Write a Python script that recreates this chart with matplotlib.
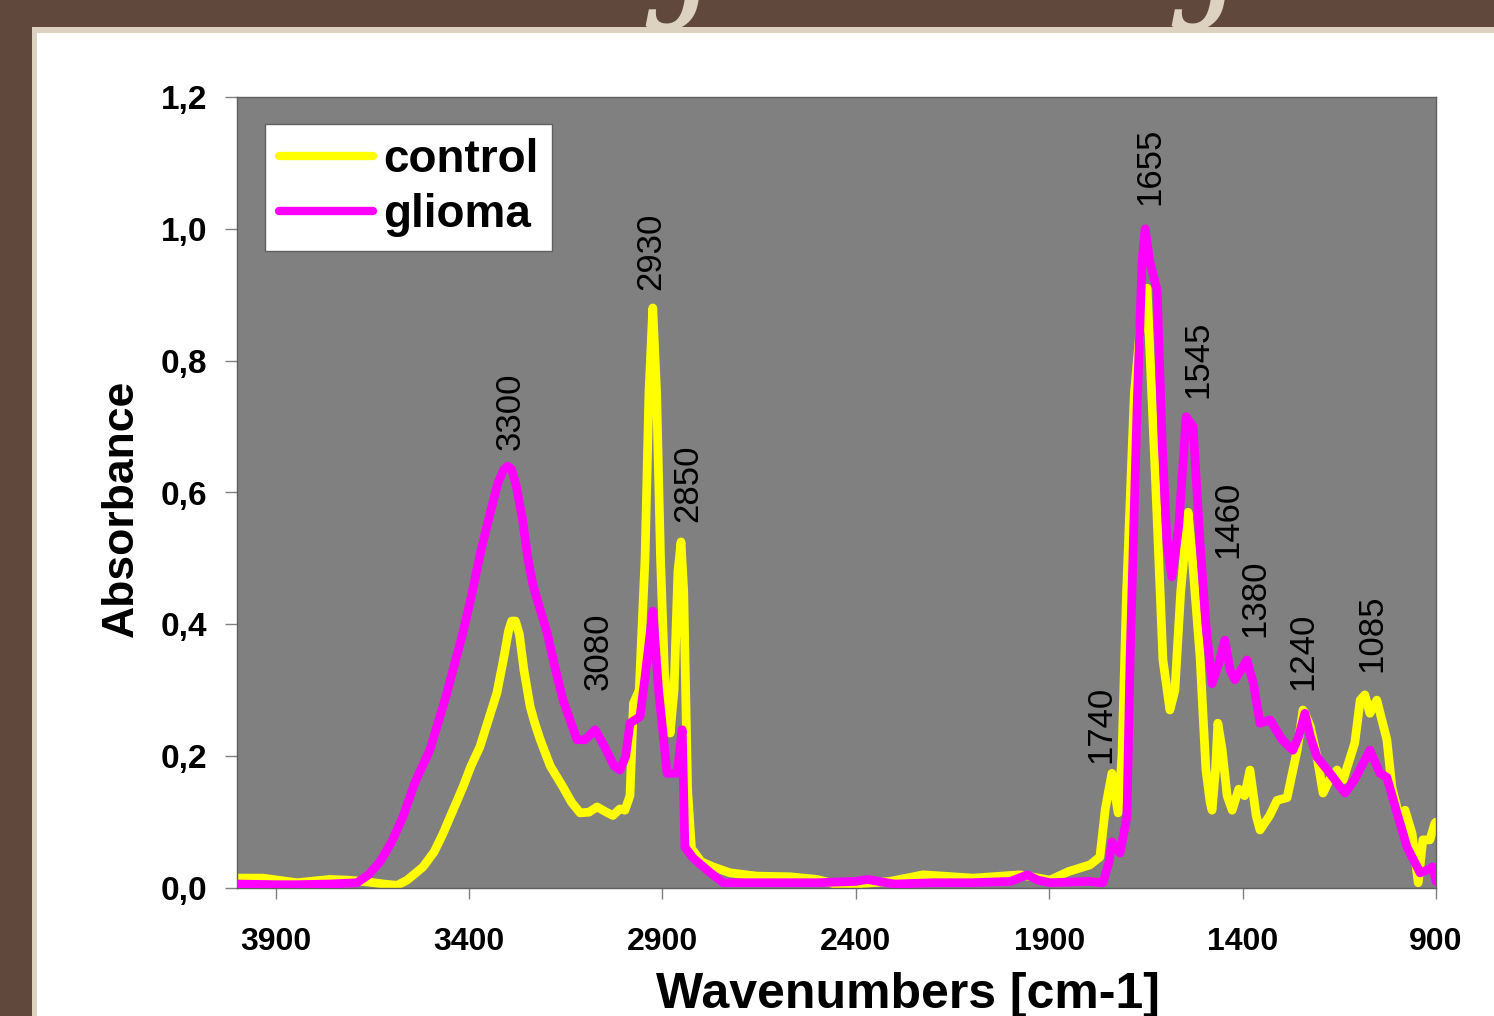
import matplotlib
matplotlib.use("Agg")
import matplotlib.pyplot as plt
from matplotlib.patches import Rectangle

# ---------------- data ----------------
control_x = [4000, 3933, 3845, 3760, 3716, 3674, 3620, 3586, 3560, 3519, 3490, 3467, 3440, 3416, 3395,
             3372, 3350, 3328, 3310, 3298, 3290, 3280, 3270, 3258, 3242, 3230, 3216, 3190, 3157, 3135,
             3113, 3090, 3069, 3045, 3028, 3010, 2997, 2984,
             2975, 2960, 2945, 2935, 2925, 2915, 2905, 2895, 2880, 2870, 2860, 2852, 2845, 2835,
             2825, 2800, 2769, 2725, 2656, 2570, 2500, 2441, 2400, 2312, 2226, 2097, 1975, 1898,
             1850, 1795, 1769, 1755, 1738, 1722, 1712, 1700, 1680, 1660, 1647, 1635, 1626, 1606,
             1588, 1575, 1560, 1541, 1530, 1510, 1495, 1484, 1479, 1470, 1464, 1453, 1440, 1427,
             1410, 1395, 1381, 1365, 1355, 1330, 1311, 1285, 1259, 1244, 1239, 1225, 1208, 1192,
             1175, 1156, 1140, 1110, 1096, 1084, 1071, 1053, 1027, 1014, 993, 980, 962, 946, 934,
             916, 903, 900]
control_y = [0.015, 0.015, 0.008, 0.013, 0.012, 0.010, 0.006, 0.004, 0.012, 0.032, 0.055, 0.083, 0.120, 0.153, 0.185,
             0.214, 0.255, 0.296, 0.350, 0.390, 0.405, 0.405, 0.385, 0.330, 0.275, 0.250, 0.225, 0.185, 0.153, 0.130,
             0.114, 0.115, 0.123, 0.115, 0.110, 0.120, 0.118, 0.140,
             0.280, 0.300, 0.500, 0.750, 0.880, 0.750, 0.500, 0.330, 0.235, 0.300, 0.480, 0.525, 0.450, 0.150,
             0.060, 0.040, 0.032, 0.023, 0.018, 0.017, 0.013, 0.004, 0.006, 0.010, 0.020, 0.015, 0.020, 0.012,
             0.025, 0.035, 0.047, 0.120, 0.174, 0.114, 0.200, 0.450, 0.750, 0.880, 0.910, 0.750, 0.630, 0.346,
             0.270, 0.300, 0.450, 0.570, 0.500, 0.350, 0.180, 0.130, 0.118, 0.180, 0.250, 0.210, 0.140, 0.118,
             0.150, 0.140, 0.179, 0.110, 0.088, 0.110, 0.133, 0.137, 0.209, 0.270, 0.265, 0.245, 0.200, 0.144,
             0.165, 0.179, 0.164, 0.220, 0.285, 0.293, 0.265, 0.285, 0.225, 0.153, 0.103, 0.118, 0.083, 0.008, 0.073,
             0.073, 0.098, 0.100]

glioma_x = [4000, 3900, 3845, 3760, 3690, 3660, 3630, 3600, 3571, 3540, 3501, 3460, 3416, 3395, 3370,
            3345, 3325, 3310, 3300, 3290, 3278, 3262, 3248, 3235, 3215, 3198, 3178, 3157, 3121, 3100,
            3074, 3050, 3025, 3010, 2995, 2984,
            2958, 2945, 2925, 2910, 2888, 2862, 2849, 2842, 2820, 2780, 2743, 2600, 2500, 2400, 2371,
            2300, 2200, 2100, 2000, 1957, 1930, 1898, 1800, 1761, 1745, 1738, 1717, 1699, 1691, 1673,
            1660, 1652, 1640, 1621, 1608, 1595, 1583, 1565, 1546, 1528, 1510, 1495, 1479, 1462, 1446,
            1432, 1420, 1405, 1389, 1372, 1355, 1329, 1298, 1270, 1255, 1239, 1225, 1208, 1174, 1150,
            1135, 1110, 1071, 1045, 1027, 1001, 975, 941, 920, 908, 900]
glioma_y = [0.006, 0.005, 0.005, 0.006, 0.008, 0.020, 0.040, 0.070, 0.108, 0.160, 0.210, 0.290, 0.387, 0.440, 0.510,
            0.570, 0.615, 0.635, 0.640, 0.635, 0.610, 0.560, 0.500, 0.460, 0.420, 0.387, 0.335, 0.285, 0.225, 0.225,
            0.240, 0.215, 0.185, 0.179, 0.200, 0.250,
            0.260, 0.320, 0.420, 0.300, 0.174, 0.174, 0.240, 0.062, 0.045, 0.025, 0.008, 0.008, 0.008, 0.010, 0.013,
            0.006, 0.008, 0.008, 0.010, 0.020, 0.012, 0.008, 0.010, 0.008, 0.040, 0.070, 0.053, 0.108, 0.346, 0.725,
            0.950, 1.000, 0.950, 0.907, 0.675, 0.520, 0.472, 0.550, 0.715, 0.700, 0.523, 0.400, 0.310, 0.340, 0.376,
            0.330, 0.316, 0.330, 0.346, 0.310, 0.250, 0.255, 0.225, 0.209, 0.230, 0.265, 0.230, 0.199, 0.174, 0.155,
            0.144, 0.165, 0.209, 0.174, 0.168, 0.114, 0.062, 0.023, 0.028, 0.032, 0.010]

peak_labels = ["3300", "3080", "2930", "2850", "1740", "1655", "1545", "1460", "1380", "1240", "1085"]
peak_label_x = [3294, 3067, 2930, 2834, 1766, 1639, 1515, 1438, 1368, 1244, 1065]
peak_label_y = [0.664, 0.300, 0.907, 0.555, 0.190, 1.036, 0.743, 0.500, 0.381, 0.300, 0.328]

x_ticks = [3900, 3400, 2900, 2400, 1900, 1400, 900]
x_tick_labels = ["3900", "3400", "2900", "2400", "1900", "1400", "900"]
y_ticks = [0.0, 0.2, 0.4, 0.6, 0.8, 1.0, 1.2]
y_tick_labels = ["0,0", "0,2", "0,4", "0,6", "0,8", "1,0", "1,2"]

series_names = ["control", "glioma"]

# ---------------- figure ----------------
W, H = 1494, 1016
plt.rcParams["font.family"] = ["Liberation Sans", "DejaVu Sans"]
fig = plt.figure(figsize=(W / 100, H / 100), dpi=100, facecolor="#60483c")

fig.patches.append(Rectangle((32 / W, 0), 1 - 32 / W, (H - 27) / H, transform=fig.transFigure,
                             facecolor="#ddd1c0", edgecolor="none", zorder=-10))
fig.patches.append(Rectangle((37 / W, 0), 1 - 37 / W, (H - 33) / H, transform=fig.transFigure,
                             facecolor="white", edgecolor="none", zorder=-9))

# decorative cut-off title glyphs at top
for gx in [698, 1224]:
    fig.text(gx / W, 1 + 4 / H, "j", fontsize=112, fontstyle="italic", family="DejaVu Serif",
             color="#ddd1c0", ha="center", va="baseline", zorder=-8)

ax = fig.add_axes([237 / W, 1 - 888 / H, (1436 - 237) / W, (888 - 97) / H])
ax.set_zorder(1)
ax.set_facecolor("#808080")

ax.plot(control_x, control_y, color="#ffff00", lw=6.3, solid_joinstyle="round",
        solid_capstyle="round", label=series_names[0], zorder=2)
ax.plot(glioma_x, glioma_y, color="#ff00ff", lw=6.3, solid_joinstyle="round",
        solid_capstyle="round", label=series_names[1], zorder=3)

ax.set_xlim(4000, 900)
ax.set_ylim(0, 1.2)
ax.set_xticks(x_ticks)
ax.set_xticklabels(x_tick_labels, fontsize=23, fontweight="bold")
ax.set_yticks(y_ticks)
ax.set_yticklabels(y_tick_labels, fontsize=24, fontweight="bold")
ax.tick_params(axis="x", direction="out", length=8, width=1, color="#808080", pad=20)
ax.tick_params(axis="y", direction="out", length=8.5, width=1, color="#808080", pad=13)
for s in ax.spines.values():
    s.set_color("#606060")
    s.set_linewidth(1)

for t, px, py in zip(peak_labels, peak_label_x, peak_label_y):
    ax.text(px, py, t, rotation=90, ha="center", va="bottom", fontsize=25, color="black", zorder=4)

ax.set_xlabel("Wavenumbers [cm-1]", fontsize=36, fontweight="bold")
ax.xaxis.set_label_coords((908 - 237) / 1199, (888 - 972) / 791)
ax.set_ylabel("Absorbance", fontsize=32, fontweight="bold")
ax.yaxis.set_label_coords((142 - 237) / 1199, (888 - 508) / 791)

leg = ax.legend(loc="upper left", bbox_to_anchor=((265 - 237) / 1199, (888 - 124) / 791),
                borderaxespad=0, fancybox=False, framealpha=1, edgecolor="#606060",
                prop={"size": 33, "weight": "bold"}, handlelength=2.05, handletextpad=0.22,
                labelspacing=0.24, borderpad=0.3)
leg.get_frame().set_linewidth(1)
for line in leg.get_lines():
    line.set_linewidth(6.0)
    line.set_solid_capstyle("round")

fig.savefig("out.png", dpi=100, facecolor=fig.get_facecolor())
